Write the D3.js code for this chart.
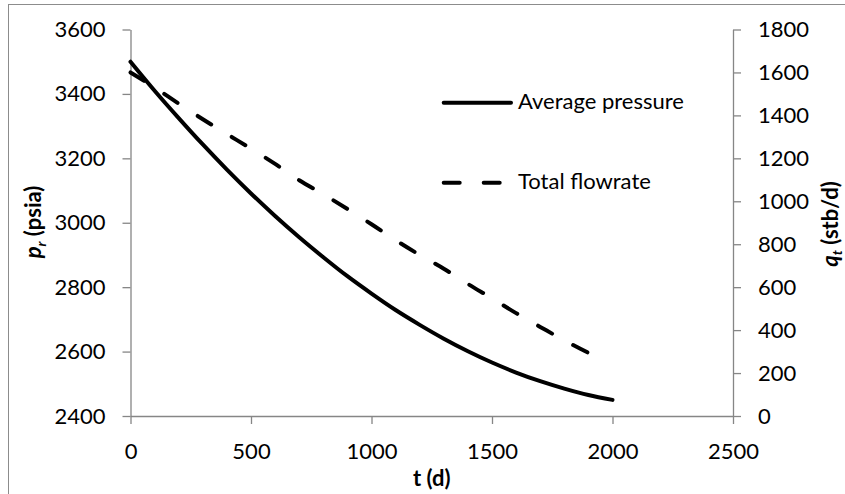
<!DOCTYPE html>
<html><head><meta charset="utf-8">
<script src="https://cdn.jsdelivr.net/npm/d3@7/dist/d3.min.js"></script>
<style>
html,body{margin:0;padding:0;background:#fff;}
text{font-family:Lato,"Open Sans",sans-serif;fill:#000;}
</style></head><body>
<svg id="chart" width="845" height="494"></svg>
<script>
// Data
const pressureTime = [0,100,200,300,400,500,600,700,800,900,1000,1100,1200,1300,1400,1500,1600,1700,1800,1900,2000];
const pressureValues = [3500,3410,3325,3243,3165,3091,3021,2955,2893,2834,2780,2729,2683,2640,2601,2566,2535,2508,2485,2465,2450];
const flowTime = [0,100,200,300,400,500,600,700,800,900,1000,1100,1200,1300,1400,1500,1600,1700,1800,1900,1950];
const flowValues = [1600,1530,1455,1382,1313,1245,1174,1098,1033,964,893,819,750,686,615,548,479,415,352,294,265];
const xTicks = [0,500,1000,1500,2000,2500];
const leftTicks = [2400,2600,2800,3000,3200,3400,3600];
const rightTicks = [0,200,400,600,800,1000,1200,1400,1600,1800];
const seriesNames = ["Average pressure","Total flowrate"];

const svg = d3.select("#chart");
const axisColor = "#868686";
const fs = 22;

// outer chart border
svg.append("rect").attr("x",8.5).attr("y",4.5).attr("width",900).attr("height",600)
  .attr("fill","none").attr("stroke","#8c8c8c").attr("stroke-width",1);

const x = d3.scaleLinear().domain([0,2500]).range([130.5,733]);
const yL = d3.scaleLinear().domain([2400,3600]).range([416,29.5]);
const yR = d3.scaleLinear().domain([0,1800]).range([416,29.5]);

function styleAxis(g){
  g.select(".domain").attr("stroke",axisColor).attr("stroke-width",1.3);
  g.selectAll(".tick line").attr("stroke",axisColor).attr("stroke-width",1.3);
  g.selectAll(".tick text").attr("font-size",fs).attr("fill","#000").attr("font-family","Lato, 'Open Sans', sans-serif");
}

const gx = svg.append("g").attr("transform","translate(0,416)")
  .call(d3.axisBottom(x).tickValues(xTicks).tickSize(8).tickSizeOuter(0).tickPadding(19).tickFormat(d3.format("d")));
styleAxis(gx);
const gl = svg.append("g").attr("transform","translate(130.5,0)")
  .call(d3.axisLeft(yL).tickValues(leftTicks).tickSize(8).tickSizeOuter(0).tickPadding(17).tickFormat(d3.format("d")));
styleAxis(gl);
const gr = svg.append("g").attr("transform","translate(733,0)")
  .call(d3.axisRight(yR).tickValues(rightTicks).tickSize(8).tickSizeOuter(0).tickPadding(17).tickFormat(d3.format("d")));
styleAxis(gr);

// lines
const pData = pressureTime.map((t,i)=>[t,pressureValues[i]]);
const qData = flowTime.map((t,i)=>[t,flowValues[i]]);
const lineP = d3.line().x(d=>x(d[0])).y(d=>yL(d[1])).curve(d3.curveMonotoneX);
const lineQ = d3.line().x(d=>x(d[0])).y(d=>yR(d[1])).curve(d3.curveMonotoneX);

svg.append("path").datum(pData).attr("d",lineP).attr("fill","none")
  .attr("stroke","#000").attr("stroke-width",4).attr("stroke-linecap","round").attr("stroke-linejoin","round");
svg.append("path").datum(qData).attr("d",lineQ).attr("fill","none")
  .attr("stroke","#000").attr("stroke-width",4).attr("stroke-linecap","round")
  .attr("stroke-dasharray","16,24");

// legend
const leg = svg.append("g");
leg.append("line").attr("x1",443.7).attr("x2",511).attr("y1",102.7).attr("y2",102.7)
  .attr("stroke","#000").attr("stroke-width",4).attr("stroke-linecap","round");
leg.append("text").attr("x",518).attr("y",101).attr("dy","0.35em").attr("font-size",fs).text(seriesNames[0]);
leg.append("line").attr("x1",443.7).attr("x2",511).attr("y1",182.7).attr("y2",182.7)
  .attr("stroke","#000").attr("stroke-width",4).attr("stroke-linecap","round").attr("stroke-dasharray","16,24");
leg.append("text").attr("x",518).attr("y",181).attr("dy","0.35em").attr("font-size",fs).text(seriesNames[1]);

// axis titles
svg.append("text").attr("x",431.7).attr("y",486).attr("text-anchor","middle")
  .attr("font-size",fs).attr("font-weight","bold").text("t (d)");

const lt = svg.append("text").attr("transform","translate(41,222) rotate(-90)")
  .attr("text-anchor","middle").attr("font-size",fs).attr("font-weight","bold");
lt.append("tspan").attr("font-style","italic").text("p");
lt.append("tspan").attr("font-style","italic").attr("font-size",14).attr("dy",5).text("r");
lt.append("tspan").attr("dy",-5).text(" (psia)");

const rt = svg.append("text").attr("transform","translate(838,224) rotate(-90)")
  .attr("text-anchor","middle").attr("font-size",fs).attr("font-weight","bold");
rt.append("tspan").attr("font-style","italic").text("q");
rt.append("tspan").attr("font-style","italic").attr("font-size",14).attr("dy",4).text("t");
rt.append("tspan").attr("dy",-4).text(" (stb/d)");
</script>
</body></html>
